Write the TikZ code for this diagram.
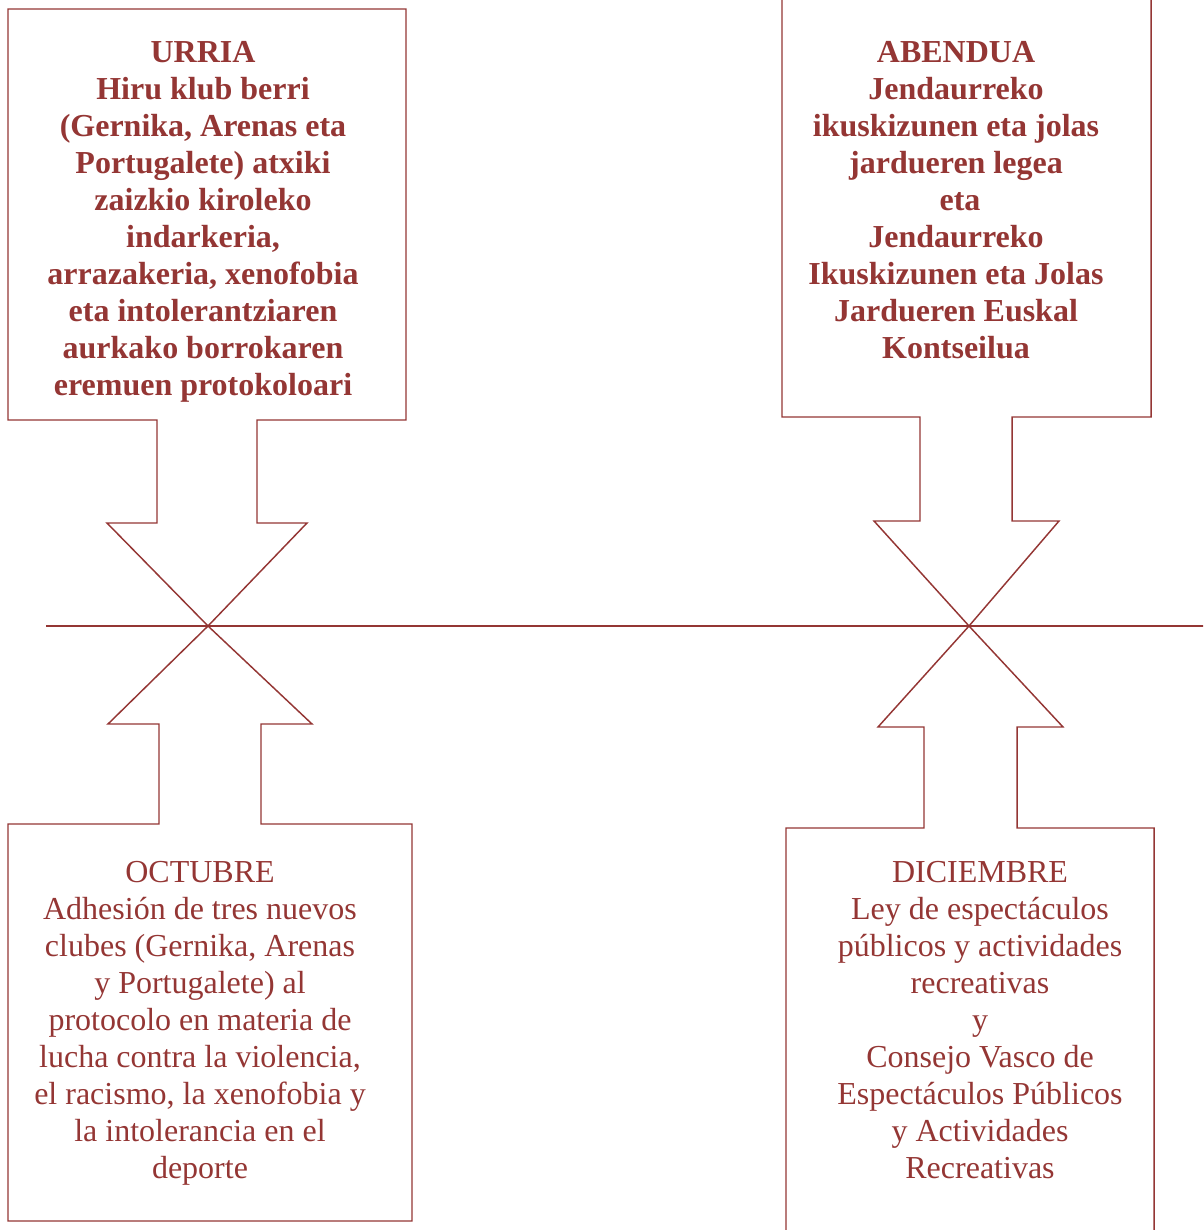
\documentclass[tikz,border=0pt]{standalone}
\usepackage{fontspec}
\setmainfont{Liberation Serif}
\definecolor{dred}{HTML}{943634}
\begin{document}
\begin{tikzpicture}[x=0.75pt,y=-0.75pt,
  callout/.style={draw=dred,line width=1.1pt,line join=miter},
  txt/.style={text=dred,align=center,inner sep=0pt,anchor=north,font=\fontsize{24}{27.75}\selectfont}]
\useasboundingbox (0,0) rectangle (1203,1230);
\clip (0,0) rectangle (1203,1230);
% timeline
\coordinate (tl0) at (46,626);
\coordinate (tl1) at (1205,626);
\coordinate (p1) at (208,626);
\coordinate (p2) at (969,626);
\draw[dred,line width=2pt] (tl0) -- (tl1);
% top-left callout
\draw[callout] (8,9) -- (406,9) -- (406,420) -- (257,420) -- (257,523) -- (307,523) -- (p1)
  -- (107,523) -- (157,523) -- (157,420) -- (8,420) -- cycle;
% bottom-left callout
\draw[callout] (8,1221) -- (8,824) -- (159,824) -- (159,724) -- (108,724) -- (p1)
  -- (312,724) -- (261,724) -- (261,824) -- (412,824) -- (412,1221) -- cycle;
% top-right callout
\draw[callout] (782,-3) -- (1151,-3) -- (1151,417) -- (1012,417) -- (1012,521) -- (1059,521) -- (p2)
  -- (874,521) -- (920,521) -- (920,417) -- (782,417) -- cycle;
% bottom-right callout
\draw[callout] (786,1235) -- (786,828) -- (924,828) -- (924,727) -- (878,727) -- (p2)
  -- (1063,727) -- (1017,727) -- (1017,828) -- (1154,828) -- (1154,1235) -- cycle;
% texts
\node[txt,font=\fontsize{24}{27.75}\selectfont\bfseries] (urria) at (203,41.5)
  {URRIA\\Hiru klub berri\\(Gernika, Arenas eta\\Portugalete) atxiki\\zaizkio kiroleko\\indarkeria,\\arrazakeria, xenofobia\\eta intolerantziaren\\aurkako borrokaren\\eremuen protokoloari};
\node[txt,font=\fontsize{24}{27.75}\selectfont\bfseries] (abendua) at (956,41.5)
  {ABENDUA\\Jendaurreko\\ikuskizunen eta jolas\\jardueren legea\\\hspace*{6pt}eta\\Jendaurreko\\Ikuskizunen eta Jolas\\Jardueren Euskal\\Kontseilua};
\node[txt] (octubre) at (200,861)
  {OCTUBRE\\Adhesión de tres nuevos\\clubes (Gernika, Arenas\\y Portugalete) al\\protocolo en materia de\\lucha contra la violencia,\\el racismo, la xenofobia y\\la intolerancia en el\\deporte};
\node[txt] (diciembre) at (980,861)
  {DICIEMBRE\\Ley de espectáculos\\públicos y actividades\\recreativas\\y\\Consejo Vasco de\\Espectáculos Públicos\\y Actividades\\Recreativas};
\end{tikzpicture}
\end{document}
